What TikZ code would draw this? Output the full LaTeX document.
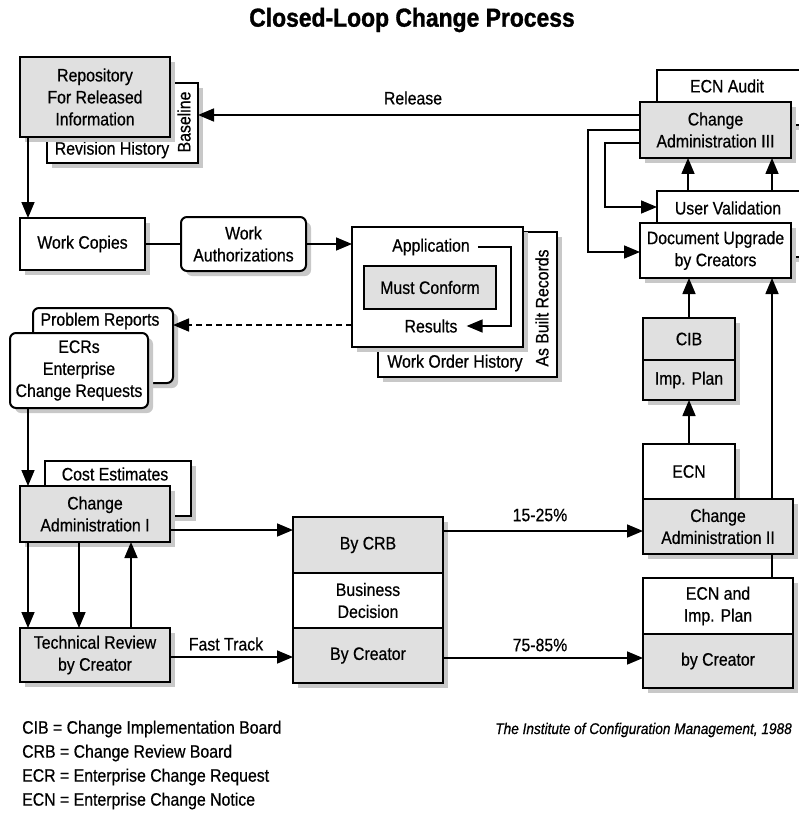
\documentclass[tikz,border=0pt]{standalone}
\usepackage{fontspec}
\setmainfont{Liberation Sans}[FakeStretch=0.88,UprightFeatures={FakeBold=0.6},ItalicFeatures={FakeBold=0.6},BoldFeatures={FakeBold=1.2}]
\usetikzlibrary{arrows.meta,shadows}
\definecolor{boxgray}{RGB}{224,224,224}
\definecolor{shgray}{RGB}{200,200,200}
\newcommand\nf{\fontsize{18}{22}\selectfont}
\newcommand\bx[7]{\node[#6,minimum width={(#4-#2)*1pt},minimum height={(#5-#3)*1pt}] (#1) at ({(#2+#4)/2},{(#3+#5)/2}) {#7};}
\begin{document}
\begin{tikzpicture}[x=1pt,y=-1pt,
 box/.style={draw,line width=2pt,inner sep=0pt,outer sep=0pt,align=center,font=\nf,fill=white},
 gbox/.style={box,fill=boxgray},
 sh/.style={drop shadow={shadow xshift=5pt,shadow yshift=-5pt,fill=shgray,opacity=1}},
 rbox/.style={box,rounded corners=6pt},
 conn/.style={line width=1.6pt},
 arr/.style={conn,-{Triangle[length=16pt,width=13pt]}},
 lbl/.style={font=\nf,inner sep=0pt},
 leg/.style={lbl,anchor=west,font=\fontsize{18}{22}\selectfont}]
\useasboundingbox[fill=white] (0,0) rectangle (799,813);

\node[font=\bfseries\fontsize{26}{30}\selectfont] (title) at (412,20) {Closed-Loop Change Process};

% repository
\bx{revhist}{47}{83}{198}{163}{box,sh}{}
\node[lbl] (revtxt) at (112,150) {Revision History};
\node[lbl,rotate=90] (baseline) at (184,122) {Baseline};
\bx{repo}{20}{57}{170}{137}{gbox,sh}{Repository\\For Released\\Information}

% work copies
\bx{wc}{20}{218}{145}{270}{box,sh}{Work Copies}
\bx{wa}{181}{217}{306}{271}{rbox,sh}{Work\\Authorizations}

% application
\bx{wo}{378}{232}{557}{377}{box,sh}{}
\node[lbl] (wotxt) at (455,363) {Work Order History};
\node[lbl,rotate=90] (asbuilt) at (542,308) {As Built Records};
\bx{app}{352}{227}{523}{347}{box,sh}{}
\node[lbl] (apptxt) at (431,247) {Application};
\node[lbl] (restxt) at (431,326) {Results};
\bx{mc}{364}{266}{496}{309}{gbox}{Must Conform}
\draw[arr] ([xshift=8pt]apptxt.east) -- (511,247) |- ([xshift=9pt]restxt.east);

% problem reports
\bx{pr}{33}{308}{173}{383}{rbox,sh}{}
\node[lbl] (prtxt) at (100,321) {Problem Reports};
\bx{ecr}{10}{333}{148}{408}{rbox,sh}{ECRs\\Enterprise\\Change Requests}

% change admin I
\bx{ce}{45}{461}{191}{516}{box,sh}{}
\node[lbl] (cetxt) at (115,474) {Cost Estimates};
\bx{ca1}{20}{486}{170}{542}{gbox,sh}{Change\\Administration I}
\bx{tr}{20}{628}{170}{682}{gbox,sh}{Technical Review\\by Creator}

% CRB stack
\bx{crb}{293}{517}{443}{573}{gbox,sh}{By CRB}
\bx{bd}{293}{573}{443}{628}{box,sh}{Business\\Decision}
\bx{bc}{293}{628}{443}{683}{gbox,sh}{By Creator}

% right column
\bx{cib}{643}{318}{735}{360}{gbox,sh}{CIB}
\bx{imp}{643}{360}{735}{400}{gbox,sh}{Imp. Plan}
\bx{ecn}{643}{444}{735}{499}{box,sh}{ECN}
\bx{ca2}{643}{499}{793}{554}{gbox,sh}{Change\\Administration II}
\bx{ecnimp}{643}{578}{793}{634}{box,sh}{ECN and\\Imp. Plan}
\bx{bycr}{643}{634}{793}{688}{gbox,sh}{by Creator}

% top right
\bx{audit}{657}{70}{815}{125}{box,sh}{}
\node[lbl] (audtxt) at (727,86) {ECN Audit};
\bx{ca3}{640}{102}{791}{158}{gbox,sh}{Change\\Administration III}
\bx{uv}{657}{191}{815}{257}{box,sh}{}
\node[lbl] (uvtxt) at (728,208) {User Validation};
\bx{du}{640}{223}{791}{278}{box,sh}{Document Upgrade\\by Creators}

% connectors
\draw[arr] (ca3.west |- 0,115) -- (revhist.east |- 0,115);
\node[lbl] (reltxt) at (413,98) {Release};
\draw[arr] (repo.south -| 28,0) -- (wc.north -| 28,0);
\draw[conn] (wc.east) -- (wa.west);
\draw[arr] (wa.east) -- (wa.east -| app.west);
\draw[arr,dash pattern=on 6pt off 4pt] (app.west |- 0,325) -- (pr.east |- 0,325);
\draw[arr] (ecr.south -| 28,0) -- (ca1.north -| 28,0);
\draw[arr] (ca1.south -| 28,0) -- (tr.north -| 28,0);
\draw[arr] (ca1.south -| 79,0) -- (tr.north -| 79,0);
\draw[arr] (tr.north -| 131,0) -- (ca1.south -| 131,0);
\draw[arr] (ca1.east |- 0,530) -- (crb.west |- 0,530);
\draw[arr] (tr.east |- 0,657) -- (bc.west |- 0,657);
\node[lbl] (ft) at (226,644) {Fast Track};
\draw[arr] (crb.east |- 0,531) -- (ca2.west |- 0,531);
\node[lbl] (p1) at (540,515) {15-25\%};
\draw[arr] (bc.east |- 0,658) -- (bycr.west |- 0,658);
\node[lbl] (p2) at (540,645) {75-85\%};
\draw[arr] (ecn.north) -- (imp.south);
\draw[arr] (cib.north) -- (cib.north |- du.south);
\draw[arr] (ca2.north -| 772,0) -- (du.south -| 772,0);
\draw[conn] (ca2.south -| 772,0) -- (ecnimp.north -| 772,0);
\draw[arr] (uv.north -| 688,0) -- (ca3.south -| 688,0);
\draw[arr] (uv.north -| 772,0) -- (ca3.south -| 772,0);
\draw[arr] (ca3.west |- 0,130) -| (588,252) -- (du.west |- 0,252);
\draw[arr] (ca3.west |- 0,143) -| (605,207) -- (uv.west |- 0,207);

% legend
\node[leg] (l1) at (22,729) {CIB = Change Implementation Board};
\node[leg] (l2) at (22,753) {CRB = Change Review Board};
\node[leg] (l3) at (22,777) {ECR = Enterprise Change Request};
\node[leg] (l4) at (22,801) {ECN = Enterprise Change Notice};
\node[lbl,anchor=east,font=\itshape\fontsize{15.5}{18}\selectfont] (credit) at (792,730) {The Institute of Configuration Management, 1988};
\end{tikzpicture}
\end{document}
